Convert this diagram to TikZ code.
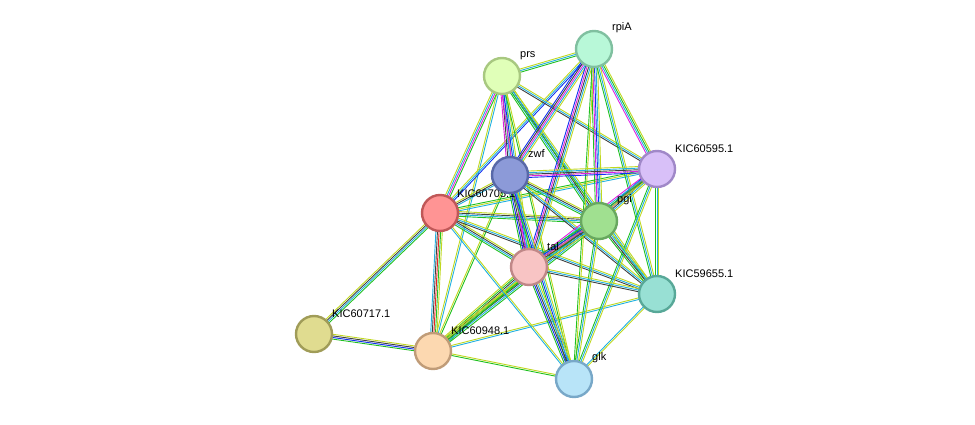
\documentclass[tikz,border=0pt]{standalone}
\usepackage{fontspec}
\setmainfont{Liberation Sans}
\usetikzlibrary{calc}
\definecolor{ck}{HTML}{404040}\definecolor{cb}{HTML}{1030F0}\definecolor{cc}{HTML}{20B0E0}
\definecolor{cmg}{HTML}{E020E0}\definecolor{cy}{HTML}{C0D820}\definecolor{cg}{HTML}{20C020}\definecolor{cr}{HTML}{F02020}
\tikzset{prot/.style={circle,minimum size=36pt,line width=2.4pt,inner sep=0pt},
lab/.style={font=\fontsize{11}{12}\selectfont,anchor=south west,inner sep=1pt}}
\newcommand\bund[3]{% from, to, color list
 \foreach \c [count=\i] in {#3} {\xdef\nn{\i}}
 \foreach \c [count=\i] in {#3} {
  \pgfmathsetmacro\d{(\i-(\nn+1)/2)*1.6}
  \draw[color=\c,line width=0.9pt] ($(#1)!\d pt!90:(#2)$) -- ($(#2)!\d pt!-90:(#1)$);}}
\begin{document}
\begin{tikzpicture}[x=1pt,y=-1pt]
\useasboundingbox (0,0) rectangle (975,425);
\coordinate (prs) at (502,76); \coordinate (rpiA) at (594,49);
\coordinate (zwf) at (510,175); \coordinate (k595) at (657,169);
\coordinate (k70) at (440,213); \coordinate (pgi) at (599,221);
\coordinate (tal) at (529,267); \coordinate (k655) at (657,294);
\coordinate (k717) at (314,334); \coordinate (k948) at (433,351);
\coordinate (glk) at (574,379);
% edges
\bund{k717}{k70}{cg,cc,ck,cy}
\bund{k717}{k948}{cg,cb,ck,cy}
\bund{k948}{glk}{cg,cy}
\bund{k948}{k70}{cy,cg,cr,ck,cc}
\bund{k948}{prs}{cc,cy}
\bund{k948}{tal}{cg,cc,ck,cg,cy}
\bund{k948}{pgi}{cg,cc,ck,cg,cy}
\bund{k948}{k655}{cc,cy}
\bund{k948}{k595}{cg,cy}
\bund{k948}{zwf}{cg,cy}
\bund{k70}{prs}{cg,cmg,cc,cy}
\bund{k70}{rpiA}{cb,cc,cy}
\bund{k70}{zwf}{cc,ck,cy}
\bund{k70}{k595}{cc,cy,cg}
\bund{k70}{pgi}{cg,cc,ck,cy}
\bund{k70}{tal}{cg,cc,ck,cy}
\bund{k70}{k655}{ck,cc,cy}
\bund{k70}{glk}{cc,cy}
\bund{prs}{rpiA}{cg,cc,cy}
\bund{prs}{zwf}{cmg,ck,cc,cy}
\bund{prs}{k595}{ck,cc,cy}
\bund{prs}{pgi}{cg,cc,ck,cy}
\bund{prs}{tal}{cmg,cb,cc,cy}
\bund{prs}{k655}{cg,cc,cy}
\bund{prs}{glk}{cg,cy}
\bund{rpiA}{zwf}{cb,ck,cmg,cc,cy}
\bund{rpiA}{k595}{cmg,cc,cg,cy}
\bund{rpiA}{pgi}{cg,cmg,cb,cc,cy}
\bund{rpiA}{tal}{cb,cmg,ck,cc,cy}
\bund{rpiA}{k655}{cg,cc,cy}
\bund{rpiA}{glk}{cg,cy}
\bund{zwf}{k595}{cb,cmg,ck,cc,cy}
\bund{zwf}{pgi}{cg,cc,ck,cy}
\bund{zwf}{tal}{cg,cb,ck,cmg,cc,cy}
\bund{zwf}{k655}{ck,cc,cy}
\bund{zwf}{glk}{cg,cb,cc,cy}
\bund{k595}{pgi}{cb,cmg,ck,cc,cy}
\bund{k595}{tal}{cmg,cc,cg,cy}
\bund{k595}{k655}{cg,cc,cy}
\bund{k595}{glk}{cg,cc,cy}
\bund{pgi}{tal}{cg,cb,cmg,ck,cc,cy}
\bund{pgi}{k655}{cg,ck,cc,cy}
\bund{pgi}{glk}{cg,cc,cy}
\bund{tal}{k655}{ck,cc,cy}
\bund{tal}{glk}{cg,cb,ck,cc,cy}
\bund{k655}{glk}{cc,cy}
% nodes
\node[lab] at (456,199) {KIC60705.1};
\node[prot,fill={rgb,255:red,255;green,148;blue,148},draw={rgb,255:red,192;green,88;blue,88}] (n70) at (k70) {};
\node[prot,fill={rgb,255:red,224;green,220;blue,144},draw={rgb,255:red,160;green,156;blue,88}] (n717) at (k717) {};
\node[prot,fill={rgb,255:red,252;green,216;blue,176},draw={rgb,255:red,192;green,156;blue,120}] (n948) at (k948) {};
\node[prot,fill={rgb,255:red,184;green,228;blue,248},draw={rgb,255:red,120;green,168;blue,200}] (nglk) at (glk) {};
\node[prot,fill={rgb,255:red,152;green,224;blue,212},draw={rgb,255:red,88;green,168;blue,152}] (n655) at (k655) {};
\node[prot,fill={rgb,255:red,248;green,196;blue,196},draw={rgb,255:red,192;green,136;blue,136}] (ntal) at (tal) {};
\node[prot,fill={rgb,255:red,160;green,224;blue,144},draw={rgb,255:red,104;green,168;blue,96}] (npgi) at (pgi) {};
\node[prot,fill={rgb,255:red,216;green,192;blue,248},draw={rgb,255:red,160;green,136;blue,200}] (n595) at (k595) {};
\node[prot,fill={rgb,255:red,140;green,154;blue,216},draw={rgb,255:red,88;green,104;blue,168}] (nzwf) at (zwf) {};
\node[prot,fill={rgb,255:red,224;green,255;blue,184},draw={rgb,255:red,168;green,200;blue,128}] (nprs) at (prs) {};
\node[prot,fill={rgb,255:red,184;green,248;blue,216},draw={rgb,255:red,128;green,192;blue,160}] (nrpi) at (rpiA) {};
% labels
\node[lab] at (519,61) {prs};
\node[lab] at (611,34) {rpiA};
\node[lab] at (527,159) {zwf};
\node[lab] at (674,154) {KIC60595.1};
\node[lab] at (616,206) {pgi};
\node[lab] at (546,252) {tal};
\node[lab] at (674,279) {KIC59655.1};
\node[lab] at (331,319) {KIC60717.1};
\node[lab] at (450,336) {KIC60948.1};
\node[lab] at (591,364) {glk};
\end{tikzpicture}
\end{document}
